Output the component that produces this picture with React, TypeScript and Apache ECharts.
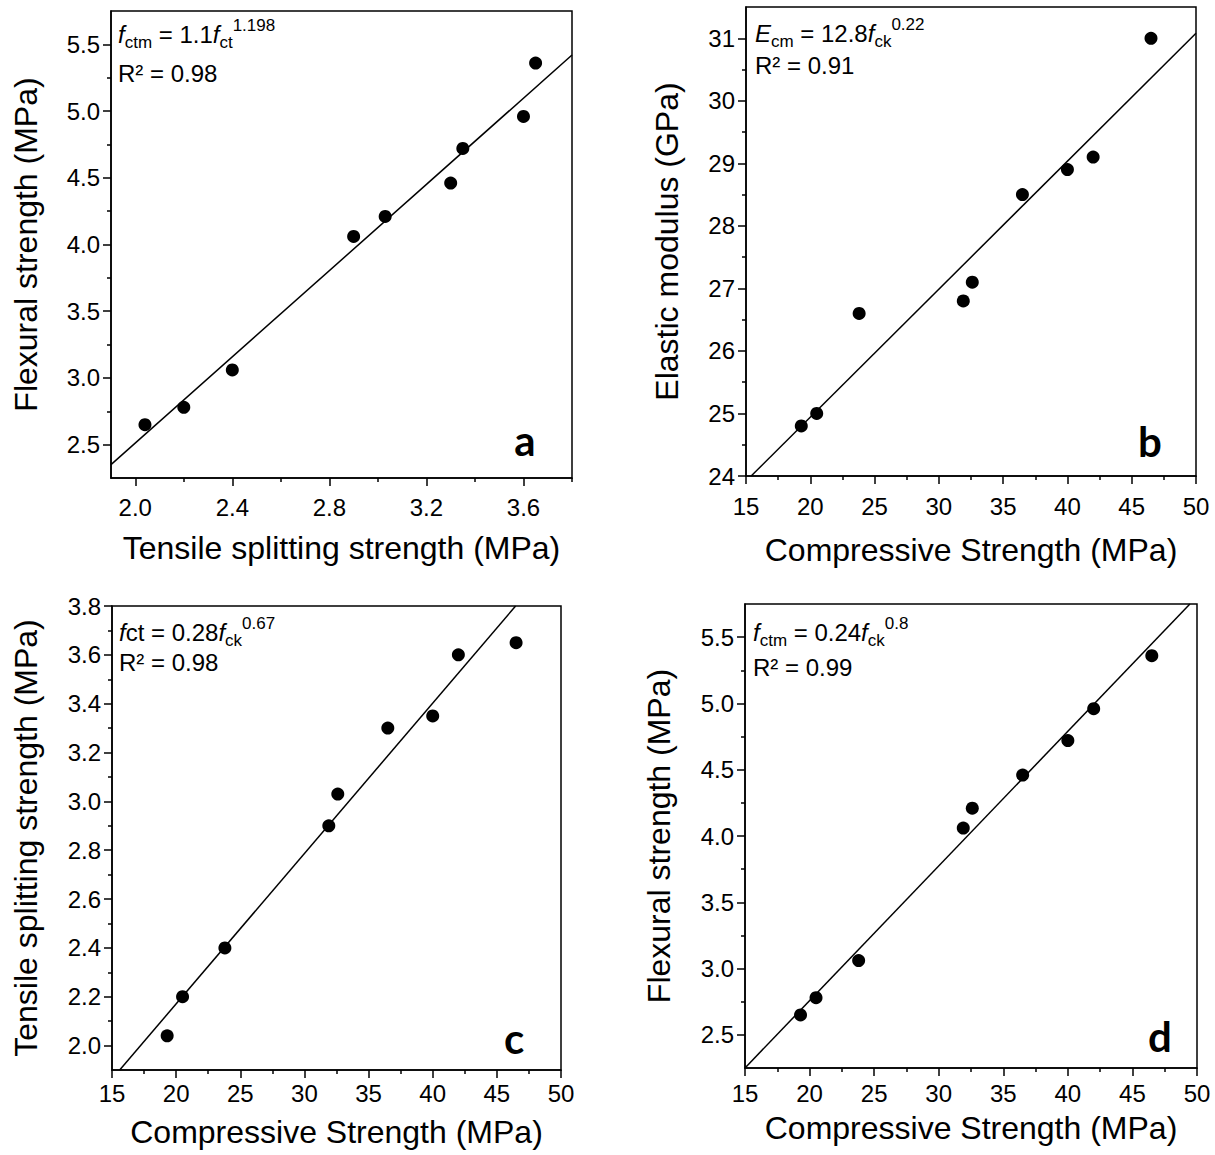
import React, { useEffect, useRef } from "react";
import * as echarts from "echarts";

// ---- data ----
const compressive = [19.3, 20.5, 23.8, 31.9, 32.6, 36.5, 40, 42, 46.5];
const tensile = [2.04, 2.2, 2.4, 2.9, 3.03, 3.3, 3.35, 3.6, 3.65];
const flexural = [2.65, 2.78, 3.06, 4.06, 4.21, 4.46, 4.72, 4.96, 5.36];
const elastic = [24.8, 25.0, 26.6, 26.8, 27.1, 28.5, 28.9, 29.1, 31.0];

// fitted lines (end points)
const fitA = [[1.9, 2.35], [3.8, 5.42]];
const fitB = [[15.4, 24.0], [50, 31.08]];
const fitC = [[15.6, 1.9], [46.46, 3.8]];
const fitD = [[15, 2.25], [49.45, 5.75]];

// tick values
const xTicksA = [2.0, 2.4, 2.8, 3.2, 3.6];
const xMinorA = [2.2, 2.6, 3.0, 3.4, 3.8];
const yTicksA = [2.5, 3.0, 3.5, 4.0, 4.5, 5.0, 5.5];
const yMinorA = [2.75, 3.25, 3.75, 4.25, 4.75, 5.25];
const xTicksComp = [15, 20, 25, 30, 35, 40, 45, 50];
const xMinorComp = [17.5, 22.5, 27.5, 32.5, 37.5, 42.5, 47.5];
const yTicksB = [24, 25, 26, 27, 28, 29, 30, 31];
const yMinorB = [24.5, 25.5, 26.5, 27.5, 28.5, 29.5, 30.5];
const yTicksC = [2.0, 2.2, 2.4, 2.6, 2.8, 3.0, 3.2, 3.4, 3.6, 3.8];
const yMinorC = [2.1, 2.3, 2.5, 2.7, 2.9, 3.1, 3.3, 3.5, 3.7];

const FONT = "'Liberation Sans', Arial, sans-serif";

function axes(
  dim: "x" | "y",
  gridIndex: number,
  min: number,
  max: number,
  major: number[],
  minor: number[],
  name: string,
  nameGap: number,
  decimals: number,
  labelMargin: number
) {
  const main: any = {
    type: "value",
    gridIndex,
    min,
    max,
    position: dim === "x" ? "bottom" : "left",
    name,
    nameLocation: "middle",
    nameGap,
    nameTextStyle: { fontFamily: FONT, fontSize: 32, color: "#000" },
    axisLine: { show: true, onZero: false, lineStyle: { color: "#000", width: 1.5 } },
    axisTick: { show: true, customValues: major, length: 8, lineStyle: { color: "#000", width: 1.5 } },
    axisLabel: {
      show: true,
      customValues: major,
      formatter: (v: number) => v.toFixed(decimals),
      fontFamily: FONT,
      fontSize: 24,
      color: "#000",
      margin: labelMargin,
    },
    splitLine: { show: false },
  };
  const sub: any = {
    type: "value",
    gridIndex,
    min,
    max,
    position: dim === "x" ? "bottom" : "left",
    axisLine: { show: false, onZero: false },
    axisTick: { show: true, customValues: minor, length: 4, lineStyle: { color: "#000", width: 1.5 } },
    axisLabel: { show: false },
    splitLine: { show: false },
  };
  return [main, sub];
}

const grids = [
  { left: 111, top: 11, width: 461, height: 467 },
  { left: 746, top: 7, width: 450, height: 469 },
  { left: 112, top: 606, width: 449, height: 464 },
  { left: 745, top: 604, width: 452, height: 464 },
];

function zip(xs: number[], ys: number[]) {
  return xs.map((x, i) => [x, ys[i]]);
}

const rich = {
  m: { fontFamily: FONT, fontSize: 24, color: "#000", lineHeight: 34, verticalAlign: "middle" },
  i: { fontFamily: FONT, fontSize: 24, fontStyle: "italic", color: "#000", lineHeight: 34, verticalAlign: "middle" },
  sub: { fontFamily: FONT, fontSize: 17, color: "#000", lineHeight: 17, verticalAlign: "bottom" },
  sup: { fontFamily: FONT, fontSize: 17, color: "#000", lineHeight: 17, verticalAlign: "top" },
};

function eq(x: number, y: number, text: string) {
  return { type: "text", x, y, silent: true, style: { text, rich, fill: "#000" } };
}
function r2(x: number, y: number, text: string) {
  return {
    type: "text",
    x,
    y,
    silent: true,
    style: { text, fontFamily: FONT, fontSize: 24, fill: "#000" },
  };
}
function panelLabel(x: number, y: number, text: string) {
  return {
    type: "text",
    x,
    y,
    silent: true,
    style: {
      text,
      fontFamily: "Lato, 'Open Sans', sans-serif",
      fontWeight: "bold",
      fontSize: 42,
      fill: "#000",
      align: "center",
      verticalAlign: "middle",
    },
  };
}

export default function App() {
  const ref = useRef<HTMLDivElement>(null);
  useEffect(() => {
    document.body.style.margin = "0";
    const chart = echarts.init(ref.current!, undefined, { renderer: "svg" });

    const xA = axes("x", 0, 1.9, 3.8, xTicksA, xMinorA, "Tensile splitting strength (MPa)", 54, 1, 17);
    const yA = axes("y", 0, 2.25, 5.75, yTicksA, yMinorA, "Flexural strength (MPa)", 69, 1, 11);
    const xB = axes("x", 1, 15, 50, xTicksComp, xMinorComp, "Compressive Strength (MPa)", 58, 0, 18);
    const yB = axes("y", 1, 24, 31.5, yTicksB, yMinorB, "Elastic modulus (GPa)", 63, 0, 11);
    const xC = axes("x", 2, 15, 50, xTicksComp, xMinorComp, "Compressive Strength (MPa)", 46, 0, 11);
    const yC = axes("y", 2, 1.9, 3.8, yTicksC, yMinorC, "Tensile splitting strength (MPa)", 70, 1, 11);
    const xD = axes("x", 3, 15, 50, xTicksComp, xMinorComp, "Compressive Strength (MPa)", 44, 0, 13);
    const yD = axes("y", 3, 2.25, 5.75, yTicksA, yMinorA, "Flexural strength (MPa)", 70, 1, 11);

    const xAxis = [...xA, ...xB, ...xC, ...xD];
    const yAxis = [...yA, ...yB, ...yC, ...yD];

    const scatter = (k: number, data: number[][]) => ({
      type: "scatter",
      xAxisIndex: k * 2,
      yAxisIndex: k * 2,
      data,
      symbol: "circle",
      symbolSize: 13,
      itemStyle: { color: "#000", opacity: 1 },
      z: 3,
    });
    const fit = (k: number, data: number[][]) => ({
      type: "line",
      xAxisIndex: k * 2,
      yAxisIndex: k * 2,
      data,
      symbol: "none",
      lineStyle: { color: "#000", width: 1.5 },
      clip: true,
      z: 2,
    });

    chart.setOption({
      animation: false,
      backgroundColor: "#fff",
      textStyle: { fontFamily: FONT },
      grid: grids.map((g) => ({
        ...g,
        show: true,
        borderColor: "#000",
        borderWidth: 1.5,
        backgroundColor: "transparent",
        containLabel: false,
      })),
      xAxis,
      yAxis,
      series: [
        fit(0, fitA),
        scatter(0, zip(tensile, flexural)),
        fit(1, fitB),
        scatter(1, zip(compressive, elastic)),
        fit(2, fitC),
        scatter(2, zip(compressive, tensile)),
        fit(3, fitD),
        scatter(3, zip(compressive, flexural)),
      ],
      graphic: [
        eq(118, 17, "{i|f}{sub|ctm}{m| = 1.1}{i|f}{sub|ct}{sup|1.198}"),
        r2(118, 61, "R² = 0.98"),
        eq(755, 16, "{i|E}{sub|cm}{m| = 12.8}{i|f}{sub|ck}{sup|0.22}"),
        r2(755, 53, "R² = 0.91"),
        eq(119, 615, "{i|f}{m|ct = 0.28}{i|f}{sub|ck}{sup|0.67}"),
        r2(119, 650, "R² = 0.98"),
        eq(753, 615, "{i|f}{sub|ctm}{m| = 0.24}{i|f}{sub|ck}{sup|0.8}"),
        r2(753, 655, "R² = 0.99"),
        panelLabel(525, 440, "a"),
        panelLabel(1150, 441, "b"),
        panelLabel(514, 1038, "c"),
        panelLabel(1160, 1036, "d"),
      ],
    });
    return () => chart.dispose();
  }, []);
  return <div ref={ref} style={{ width: 1215, height: 1155 }} />;
}
